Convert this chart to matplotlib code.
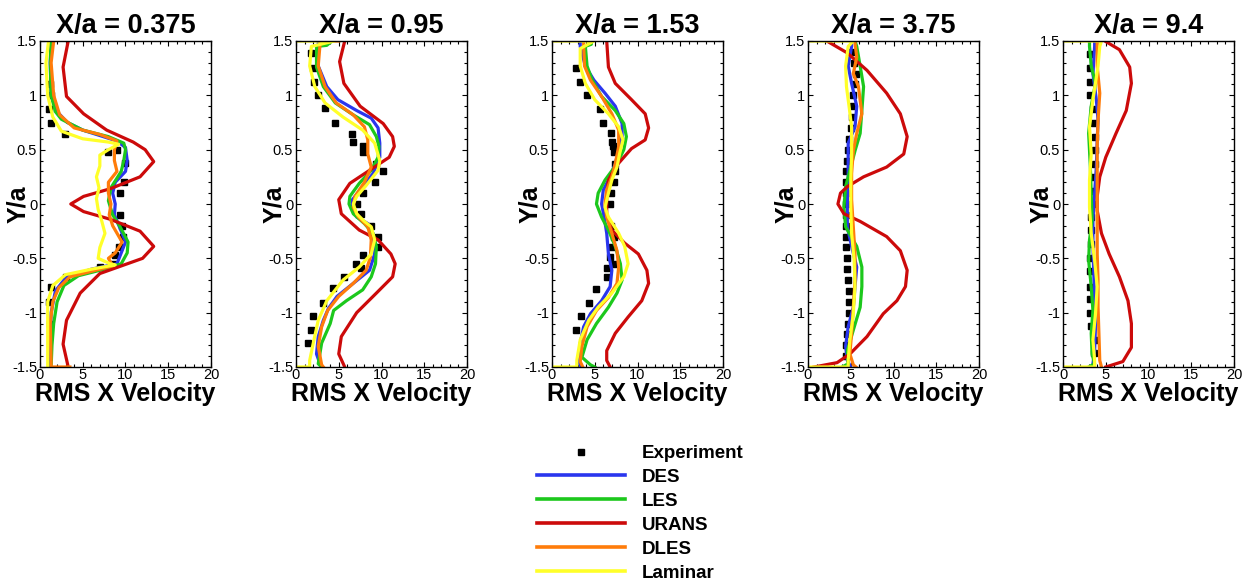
import matplotlib
matplotlib.use("Agg")
import matplotlib.pyplot as plt
from matplotlib.ticker import MultipleLocator, FormatStrFormatter
from matplotlib.lines import Line2D

plt.rcParams['font.family'] = ['Liberation Sans', 'DejaVu Sans']
plt.rcParams['axes.unicode_minus'] = False

titles = ["X/a = 0.375", "X/a = 0.95", "X/a = 1.53", "X/a = 3.75", "X/a = 9.4"]
names = ["Experiment", "DES", "LES", "URANS", "DLES", "Laminar"]
colors = ["black", "#2a36ee", "#1cc81c", "#cc0a0a", "#ff7c0a", "#ffff2a"]

# ---- X/a = 0.375
exp1_y = [1.1, 1.0, 0.87, 0.75, 0.64, 0.5, 0.48, 0.38, 0.2, 0.1, -0.1, -0.2, -0.3, -0.4, -0.47, -0.55, -0.58, -0.67, -0.76, -0.9, -1.1]
exp1_x = [1.2, 1.3, 1.0, 1.3, 2.9, 9.0, 7.9, 10.0, 9.8, 9.3, 9.3, 9.6, 9.7, 9.2, 8.8, 8.5, 7.0, 3.0, 1.3, 1.0, 1.2]
des1_y = [1.5, 1.3, 1.0, 0.85, 0.75, 0.68, 0.63, 0.58, 0.52, 0.4, 0.3, 0.2, 0.1, 0.0, -0.1, -0.25, -0.35, -0.45, -0.55, -0.6, -0.68, -0.8, -1.0, -1.3, -1.5]
des1_x = [1.3, 1.2, 1.3, 2.0, 3.2, 5.0, 7.0, 9.0, 10.0, 10.2, 10.0, 8.8, 8.5, 8.8, 8.7, 9.5, 10.0, 9.5, 9.0, 6.0, 3.0, 1.8, 1.3, 1.2, 1.2]
les1_y = [1.5, 1.3, 1.0, 0.85, 0.78, 0.68, 0.62, 0.56, 0.5, 0.4, 0.3, 0.15, 0.03, -0.1, -0.2, -0.35, -0.45, -0.55, -0.6, -0.66, -0.75, -0.9, -1.1, -1.3, -1.5]
les1_x = [1.3, 1.2, 1.3, 1.8, 2.5, 5.0, 8.0, 9.8, 10.0, 9.8, 9.5, 8.3, 8.0, 8.5, 9.3, 10.3, 10.2, 9.5, 7.5, 4.5, 2.8, 2.0, 1.6, 1.4, 1.3]
urans1_y = [1.5, 1.26, 0.99, 0.83, 0.68, 0.57, 0.5, 0.39, 0.25, 0.14, 0.07, 0.0, -0.07, -0.14, -0.25, -0.39, -0.5, -0.57, -0.64, -0.82, -1.07, -1.29, -1.5]
urans1_x = [3.3, 2.7, 3.1, 5.1, 7.8, 10.9, 12.3, 13.3, 11.7, 8.2, 5.1, 3.6, 5.1, 8.2, 11.7, 13.3, 12.0, 9.5, 7.0, 4.7, 3.1, 2.7, 3.3]
dles1_y = [1.5, 1.3, 1.0, 0.82, 0.7, 0.64, 0.58, 0.5, 0.4, 0.3, 0.2, 0.1, 0.0, -0.1, -0.2, -0.35, -0.45, -0.5, -0.57, -0.62, -0.67, -0.77, -0.9, -1.1, -1.45, -1.5, -1.5]
dles1_x = [1.6, 1.3, 1.6, 2.3, 4.0, 7.0, 9.0, 8.7, 8.7, 9.0, 8.0, 8.0, 8.3, 8.1, 8.5, 9.6, 8.8, 8.0, 8.5, 6.0, 3.5, 2.2, 1.5, 1.2, 1.3, 1.3, 3.5]
lam1_y = [1.5, 1.3, 1.0, 0.8, 0.67, 0.6, 0.57, 0.55, 0.5, 0.45, 0.35, 0.25, 0.15, 0.05, -0.05, -0.15, -0.27, -0.4, -0.5, -0.55, -0.56, -0.6, -0.65, -0.75, -0.9, -1.1, -1.5]
lam1_x = [1.0, 0.7, 0.9, 1.5, 2.5, 5.0, 8.0, 9.2, 8.0, 7.0, 7.0, 6.6, 6.9, 6.6, 6.8, 7.2, 7.6, 7.0, 6.8, 8.2, 8.8, 6.0, 3.0, 1.5, 0.9, 0.9, 0.9]

# ---- X/a = 0.95
exp2_y = [1.39, 1.25, 1.12, 1.0, 0.88, 0.75, 0.64, 0.57, 0.53, 0.48, 0.37, 0.3, 0.2, 0.1, 0.0, -0.09, -0.2, -0.3, -0.4, -0.47, -0.55, -0.59, -0.67, -0.77, -0.91, -1.03, -1.16, -1.28]
exp2_x = [1.8, 2.0, 2.1, 2.6, 3.4, 4.6, 6.5, 6.7, 7.8, 7.8, 9.3, 10.2, 9.2, 7.8, 7.1, 7.6, 8.8, 9.6, 9.6, 7.8, 7.0, 7.6, 5.6, 4.3, 3.1, 2.0, 1.8, 1.4]
des2_y = [1.5, 1.45, 1.27, 1.08, 0.96, 0.86, 0.79, 0.7, 0.56, 0.43, 0.28, 0.16, 0.04, -0.04, -0.12, -0.18, -0.27, -0.46, -0.61, -0.73, -0.85, -0.96, -1.07, -1.22, -1.38, -1.47, -1.5]
des2_x = [2.6, 2.6, 2.6, 3.6, 4.9, 7.1, 8.8, 9.6, 9.8, 9.8, 9.0, 7.8, 6.6, 6.5, 7.1, 8.4, 9.0, 9.2, 8.6, 6.7, 4.8, 3.8, 3.2, 2.6, 2.4, 2.8, 3.0]
les2_y = [1.5, 1.46, 1.45, 1.26, 1.08, 0.93, 0.82, 0.73, 0.62, 0.53, 0.43, 0.31, 0.19, 0.07, 0.0, -0.09, -0.18, -0.27, -0.39, -0.55, -0.67, -0.79, -0.89, -0.98, -1.1, -1.28, -1.47, -1.5]
les2_x = [4.2, 3.6, 2.4, 2.4, 3.2, 4.6, 6.7, 8.6, 9.4, 9.7, 9.6, 8.8, 7.4, 6.3, 6.2, 6.7, 8.0, 9.0, 9.4, 9.3, 8.8, 7.8, 5.9, 4.4, 4.0, 3.0, 2.6, 3.0]
urans2_y = [1.5, 1.31, 1.11, 0.9, 0.74, 0.62, 0.53, 0.43, 0.31, 0.19, 0.04, -0.09, -0.24, -0.33, -0.46, -0.55, -0.67, -0.82, -1.0, -1.22, -1.38, -1.5]
urans2_x = [5.7, 5.1, 5.6, 7.5, 10.2, 11.3, 11.5, 10.9, 8.6, 6.3, 5.0, 5.3, 7.4, 9.6, 11.1, 11.6, 11.3, 9.4, 7.1, 5.3, 5.0, 5.7]
dles2_y = [1.5, 1.5, 1.46, 1.27, 1.08, 0.93, 0.82, 0.71, 0.59, 0.46, 0.34, 0.2, 0.07, -0.03, -0.12, -0.21, -0.33, -0.49, -0.61, -0.73, -0.85, -0.98, -1.13, -1.31, -1.48, -1.5]
dles2_x = [5.0, 2.8, 2.8, 2.6, 3.4, 4.7, 6.7, 8.0, 8.4, 8.4, 8.8, 8.0, 6.9, 6.7, 7.3, 8.4, 8.8, 8.7, 8.2, 6.7, 5.0, 3.7, 3.0, 2.6, 3.0, 3.2]
lam2_y = [1.5, 1.5, 1.45, 1.27, 1.08, 0.93, 0.8, 0.68, 0.56, 0.4, 0.31, 0.17, 0.07, 0.0, -0.09, -0.16, -0.21, -0.33, -0.46, -0.58, -0.7, -0.89, -1.07, -1.25, -1.44, -1.5, -1.5]
lam2_x = [0.0, 4.5, 1.8, 1.6, 2.2, 3.4, 5.5, 7.8, 9.2, 9.8, 9.6, 8.2, 7.1, 6.7, 7.1, 8.0, 8.8, 9.2, 8.8, 7.4, 5.5, 3.6, 2.6, 2.1, 1.6, 1.6, 0.0]

# ---- X/a = 1.53
exp3_y = [1.25, 1.12, 1.0, 0.87, 0.75, 0.65, 0.57, 0.53, 0.48, 0.37, 0.3, 0.2, 0.1, 0.0, -0.2, -0.3, -0.4, -0.49, -0.55, -0.59, -0.67, -0.78, -0.91, -1.03, -1.16]
exp3_x = [2.8, 3.3, 4.1, 5.6, 6.0, 6.9, 7.0, 7.1, 7.2, 7.4, 7.4, 7.2, 6.9, 6.8, 6.9, 7.2, 7.0, 6.8, 7.2, 6.4, 6.4, 5.1, 4.3, 3.4, 2.8]
des3_y = [1.5, 1.45, 1.27, 1.14, 1.02, 0.9, 0.74, 0.62, 0.5, 0.37, 0.25, 0.13, 0.0, -0.12, -0.27, -0.46, -0.61, -0.76, -0.89, -1.01, -1.13, -1.28, -1.44, -1.5]
des3_x = [3.3, 3.3, 3.9, 4.9, 6.2, 7.4, 8.2, 8.2, 7.8, 7.4, 6.8, 6.0, 5.8, 6.1, 6.4, 6.6, 7.0, 6.8, 5.8, 4.5, 3.7, 3.3, 3.1, 3.4]
les3_y = [1.5, 1.47, 1.45, 1.27, 1.14, 0.99, 0.86, 0.74, 0.62, 0.5, 0.37, 0.22, 0.1, 0.0, -0.12, -0.24, -0.39, -0.55, -0.7, -0.82, -0.95, -1.1, -1.25, -1.41, -1.48, -1.5]
les3_x = [4.6, 4.6, 3.9, 4.1, 4.7, 5.8, 7.4, 8.4, 8.7, 8.4, 7.6, 6.2, 5.4, 5.2, 5.8, 6.6, 7.4, 8.0, 8.2, 7.6, 6.6, 5.2, 4.1, 3.5, 4.5, 5.0]
urans3_y = [1.5, 1.26, 1.11, 0.96, 0.83, 0.7, 0.59, 0.51, 0.43, 0.34, 0.22, 0.1, -0.09, -0.24, -0.36, -0.46, -0.61, -0.73, -0.89, -1.04, -1.19, -1.35, -1.44, -1.5]
urans3_x = [6.4, 6.6, 7.4, 9.3, 10.9, 11.3, 10.9, 9.3, 8.4, 7.4, 6.6, 6.4, 6.4, 7.0, 8.5, 10.1, 11.1, 11.3, 10.5, 8.9, 7.4, 6.4, 6.4, 6.8]
dles3_y = [1.5, 1.46, 1.27, 1.14, 0.99, 0.83, 0.68, 0.53, 0.37, 0.25, 0.13, 0.0, -0.12, -0.27, -0.43, -0.58, -0.73, -0.86, -0.98, -1.13, -1.31, -1.45, -1.5]
dles3_x = [3.7, 3.7, 3.8, 4.5, 5.8, 7.0, 7.8, 7.8, 7.4, 7.0, 6.4, 6.2, 6.4, 7.0, 7.6, 7.8, 7.6, 6.6, 5.2, 4.1, 3.5, 3.3, 3.6]
lam3_y = [1.5, 1.5, 1.43, 1.27, 1.11, 0.96, 0.83, 0.71, 0.59, 0.46, 0.34, 0.22, 0.1, -0.03, -0.12, -0.27, -0.39, -0.55, -0.67, -0.82, -0.95, -1.07, -1.25, -1.44, -1.5, -1.5]
lam3_x = [0.0, 4.9, 3.3, 3.3, 3.9, 5.0, 6.6, 7.8, 8.3, 7.9, 7.6, 7.0, 6.6, 6.2, 6.6, 7.8, 8.5, 8.9, 8.4, 7.0, 5.4, 4.3, 3.3, 2.9, 2.9, 0.0]

# ---- X/a = 3.75
exp4_y = [1.4, 1.3, 1.2, 1.1, 1.0, 0.9, 0.8, 0.7, 0.6, 0.5, 0.4, 0.3, 0.2, 0.1, 0.0, -0.1, -0.2, -0.3, -0.4, -0.5, -0.6, -0.7, -0.8, -0.9, -1.0, -1.1, -1.2, -1.3, -1.4]
exp4_x = [5.2, 5.4, 5.6, 5.5, 5.3, 5.3, 5.2, 5.0, 4.8, 4.7, 4.6, 4.5, 4.5, 4.4, 4.4, 4.4, 4.4, 4.4, 4.5, 4.6, 4.6, 4.7, 4.8, 4.8, 4.8, 4.7, 4.6, 4.5, 4.5]
des4_y = [1.5, 1.45, 1.27, 1.11, 0.9, 0.71, 0.56, 0.4, 0.22, 0.0, -0.21, -0.39, -0.58, -0.76, -0.95, -1.13, -1.31, -1.44, -1.5]
des4_x = [5.1, 5.1, 4.7, 5.1, 5.7, 5.5, 4.7, 4.7, 4.7, 4.6, 4.6, 5.1, 5.7, 5.5, 5.3, 4.7, 4.4, 4.6, 5.0]
les4_y = [1.5, 1.45, 1.27, 1.08, 0.86, 0.65, 0.49, 0.34, 0.16, -0.03, -0.21, -0.39, -0.58, -0.76, -0.95, -1.16, -1.35, -1.47, -1.5]
les4_x = [5.5, 5.7, 6.1, 6.5, 6.3, 6.1, 5.5, 5.0, 4.4, 4.2, 4.4, 5.7, 6.3, 6.3, 6.1, 5.3, 4.6, 4.7, 4.0]
urans4_y = [1.5, 1.39, 1.23, 1.02, 0.83, 0.62, 0.46, 0.34, 0.25, 0.16, 0.1, 0.0, -0.09, -0.16, -0.3, -0.43, -0.61, -0.76, -0.89, -1.01, -1.22, -1.38, -1.46, -1.5]
urans4_x = [2.2, 4.6, 6.9, 9.2, 10.8, 11.6, 11.2, 9.2, 6.5, 4.6, 3.8, 3.5, 4.2, 6.1, 9.2, 10.8, 11.6, 11.4, 10.4, 8.8, 6.9, 4.9, 3.4, 0.7]
dles4_y = [1.5, 1.48, 1.35, 1.2, 1.08, 0.83, 0.65, 0.49, 0.28, 0.04, -0.21, -0.46, -0.7, -0.95, -1.19, -1.38, -1.48, -1.5]
dles4_x = [5.5, 5.5, 5.7, 5.3, 5.9, 6.3, 5.7, 5.3, 5.1, 5.1, 5.3, 5.5, 5.5, 5.3, 5.1, 4.9, 5.3, 5.6]
lam4_y = [1.5, 1.5, 1.45, 1.27, 1.08, 0.9, 0.71, 0.46, 0.22, -0.03, -0.27, -0.52, -0.76, -1.01, -1.25, -1.44, -1.5, -1.5]
lam4_x = [0.0, 5.3, 4.7, 4.4, 4.5, 4.8, 5.1, 5.1, 5.0, 5.0, 5.1, 5.4, 5.5, 5.3, 4.9, 4.7, 4.7, 0.0]

# ---- X/a = 9.4
exp5_y = [1.38, 1.25, 1.12, 1.0, 0.87, 0.75, 0.62, 0.5, 0.37, 0.25, 0.12, 0.0, -0.12, -0.24, -0.37, -0.5, -0.62, -0.76, -0.87, -1.0, -1.12, -1.25, -1.37]
exp5_x = [3.1, 3.1, 3.2, 3.2, 3.5, 3.6, 3.7, 3.8, 3.7, 3.6, 3.5, 3.4, 3.3, 3.3, 3.3, 3.2, 3.2, 3.1, 3.1, 3.1, 3.3, 3.7, 3.6]
des5_y = [1.5, 1.45, 1.2, 0.96, 0.77, 0.59, 0.34, 0.1, -0.15, -0.39, -0.64, -0.89, -1.13, -1.35, -1.47, -1.5]
des5_x = [3.7, 3.7, 3.5, 3.9, 4.1, 4.0, 3.9, 3.7, 3.5, 3.5, 3.6, 3.7, 3.8, 3.7, 3.5, 3.6]
les5_y = [1.5, 1.45, 1.27, 1.11, 0.9, 0.65, 0.34, 0.1, -0.15, -0.33, -0.52, -0.76, -0.98, -1.19, -1.38, -1.47, -1.5]
les5_x = [3.1, 3.1, 3.3, 3.8, 3.3, 3.0, 3.2, 3.3, 3.4, 3.1, 3.0, 3.3, 3.5, 3.3, 3.4, 3.7, 3.0]
urans5_y = [1.5, 1.42, 1.26, 1.11, 0.86, 0.65, 0.43, 0.25, 0.07, -0.06, -0.27, -0.46, -0.67, -0.89, -1.1, -1.32, -1.45, -1.5]
urans5_x = [4.9, 6.6, 7.8, 8.0, 7.4, 6.2, 5.0, 4.3, 4.0, 4.0, 4.5, 5.4, 6.6, 7.6, 8.0, 8.0, 7.0, 5.0]
dles5_y = [1.5, 1.48, 1.27, 1.02, 0.77, 0.53, 0.28, 0.04, -0.21, -0.46, -0.7, -0.95, -1.19, -1.44, -1.5]
dles5_x = [4.0, 4.0, 4.0, 4.3, 4.1, 4.0, 4.0, 4.0, 4.0, 4.0, 4.1, 4.1, 4.2, 4.3, 4.5]
lam5_y = [1.5, 1.5, 1.45, 1.27, 0.96, 0.71, 0.46, 0.22, -0.03, -0.27, -0.52, -0.76, -1.01, -1.25, -1.44, -1.5, -1.5]
lam5_x = [0.0, 4.5, 4.3, 4.1, 3.5, 3.1, 3.3, 3.1, 3.1, 3.3, 3.7, 4.0, 3.8, 3.5, 3.7, 3.7, 0.0]

panels = [
    [(exp1_x, exp1_y), (des1_x, des1_y), (les1_x, les1_y), (urans1_x, urans1_y), (dles1_x, dles1_y), (lam1_x, lam1_y)],
    [(exp2_x, exp2_y), (des2_x, des2_y), (les2_x, les2_y), (urans2_x, urans2_y), (dles2_x, dles2_y), (lam2_x, lam2_y)],
    [(exp3_x, exp3_y), (des3_x, des3_y), (les3_x, les3_y), (urans3_x, urans3_y), (dles3_x, dles3_y), (lam3_x, lam3_y)],
    [(exp4_x, exp4_y), (des4_x, des4_y), (les4_x, les4_y), (urans4_x, urans4_y), (dles4_x, dles4_y), (lam4_x, lam4_y)],
    [(exp5_x, exp5_y), (des5_x, des5_y), (les5_x, les5_y), (urans5_x, urans5_y), (dles5_x, dles5_y), (lam5_x, lam5_y)],
]

W, H = 1254, 582
fig = plt.figure(figsize=(W / 100, H / 100), dpi=100)
lefts = [40, 296, 552, 808, 1063]

for i, series in enumerate(panels):
    ax = fig.add_axes([lefts[i] / W, (H - 367) / H, 171 / W, 326 / H])
    ex, ey = series[0]
    ax.plot(ex, ey, linestyle="none", marker="s", markersize=5, color="black")
    for j in range(1, 6):
        x, y = series[j]
        ax.plot(x, y, color=colors[j], linewidth=2.3, solid_joinstyle="round")
    ax.set_xlim(0, 20)
    ax.set_ylim(-1.5, 1.5)
    ax.xaxis.set_major_locator(MultipleLocator(5))
    ax.xaxis.set_minor_locator(MultipleLocator(1))
    ax.yaxis.set_major_locator(MultipleLocator(0.5))
    ax.yaxis.set_minor_locator(MultipleLocator(0.1))
    ax.yaxis.set_major_formatter(FormatStrFormatter("%g"))
    ax.xaxis.set_major_formatter(FormatStrFormatter("%g"))
    ax.tick_params(which="both", direction="in", top=True, right=True, width=0.8, labelsize=10.5)
    ax.tick_params(which="major", length=3.6)
    ax.tick_params(which="minor", length=2.0)
    ax.tick_params(axis="x", pad=1)
    ax.tick_params(axis="y", pad=2)
    for s in ax.spines.values():
        s.set_linewidth(1.0)
    ax.set_title(titles[i], fontsize=19.5, fontweight="bold", pad=6)
    ax.set_xlabel("RMS X Velocity", fontsize=18, fontweight="bold", labelpad=0)
    ax.set_ylabel("Y/a", fontsize=18, fontweight="bold")
    ax.yaxis.set_label_coords(-0.06, 0.5)

handles = [Line2D([], [], linestyle="none", marker="s", markersize=4, color="black")]
for j in range(1, 6):
    handles.append(Line2D([], [], color=colors[j], linewidth=2.6))
fig.legend(handles, names, loc="upper left", bbox_to_anchor=(537 / W, 1 - 445 / H),
           frameon=False, borderpad=0, borderaxespad=0, handlelength=4.7,
           handletextpad=0.9, labelspacing=0.36, prop={"weight": "bold", "size": 13.5})

fig.savefig("out.png", dpi=100)
